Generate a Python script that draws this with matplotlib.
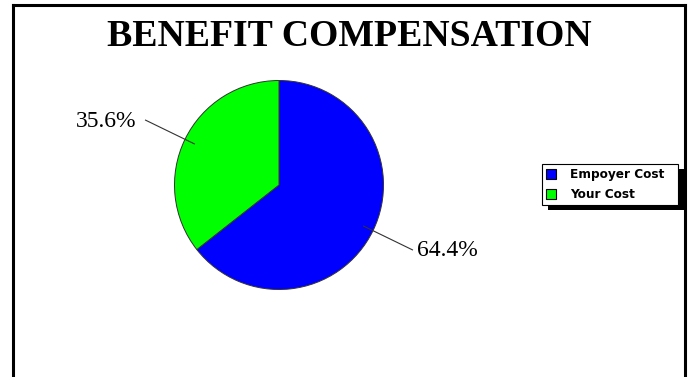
import numpy as np
import matplotlib
matplotlib.use("Agg")
import matplotlib.pyplot as plt
from matplotlib.patches import Rectangle
from matplotlib.lines import Line2D

# Benefit split
labels = ["Empoyer Cost", "Your Cost"]
shares = [64.4, 35.6]
colors = ["#0000FF", "#00FF00"]

W, H = 689, 377
fig = plt.figure(figsize=(W / 100, H / 100), dpi=100)
fig.patch.set_facecolor("white")

# frame round the page (open at the bottom)
px = lambda x, y: (x / W, 1 - y / H)
for (x0, y0), (x1, y1) in [((13, 400), (13, 5)), ((13, 5), (685, 5)), ((685, 5), (685, 400))]:
    a, b = px(x0, y0)
    c, d = px(x1, y1)
    fig.add_artist(Line2D([a, c], [b, d], color="black", lw=2.2,
                          solid_capstyle="projecting", transform=fig.transFigure))

fig.text(349 / W, 1 - 46 / H, "BENEFIT COMPENSATION", ha="center", va="baseline",
         fontsize=27.2, fontweight="bold", family="Liberation Serif")

# pie: centre (279,185) px, radius 104.5 px
R = 104.5
cx, cy = 279, 185
ax_w, ax_h = 2 * cx, 2 * (H - cy)
ax = fig.add_axes([0, 0, ax_w / W, ax_h / H])
wedges, _ = ax.pie(shares, colors=colors, startangle=90, counterclock=False, radius=1,
                   wedgeprops=dict(edgecolor="#333333", linewidth=0.7))
ax.set_xlim(-cx / R, cx / R)
ax.set_ylim(-(H - cy) / R, (H - cy) / R)
ax.set_aspect("equal")
ax.axis("off")

for w, s in zip(wedges, shares):
    ang = np.deg2rad((w.theta1 + w.theta2) / 2)
    c, sn = np.cos(ang), np.sin(ang)
    ax.plot([0.9 * c, 1.42 * c], [0.9 * sn, 1.42 * sn], color="#333333", lw=0.8)
    ha = "left" if c > 0 else "right"
    ax.text(1.45 * c + (0.02 if c > 0 else -0.06), 1.42 * sn - 0.01, f"{s:.1f}%", ha=ha,
            va="center", fontsize=17, family="Liberation Serif")

handles = [Line2D([], [], marker="s", ls="", markersize=6.5, markerfacecolor=col,
                  markeredgecolor="black", markeredgewidth=0.8) for col in colors]
leg = fig.legend(handles, labels, loc="upper left",
                 bbox_to_anchor=(542 / W, 1 - 204 / H, 136 / W, 40 / H), mode="expand",
                 frameon=True, fancybox=False, framealpha=1, facecolor="white",
                 borderpad=0.35, handlelength=0.8, handletextpad=1.2, labelspacing=0.55,
                 borderaxespad=0, prop=dict(family="DejaVu Sans", weight="bold", size=8.7))
leg.get_frame().set_edgecolor("black")
leg.get_frame().set_linewidth(0.8)
leg.set_zorder(5)

# drop shadow behind the legend box
fig.canvas.draw()
bb = leg.get_window_extent()
fig.add_artist(Rectangle(((bb.x0 + 6) / W, (bb.y0 - 5) / H), bb.width / W, bb.height / H,
                         transform=fig.transFigure, facecolor="black", edgecolor="none",
                         zorder=4))

fig.savefig("out.png", dpi=100, facecolor="white")
